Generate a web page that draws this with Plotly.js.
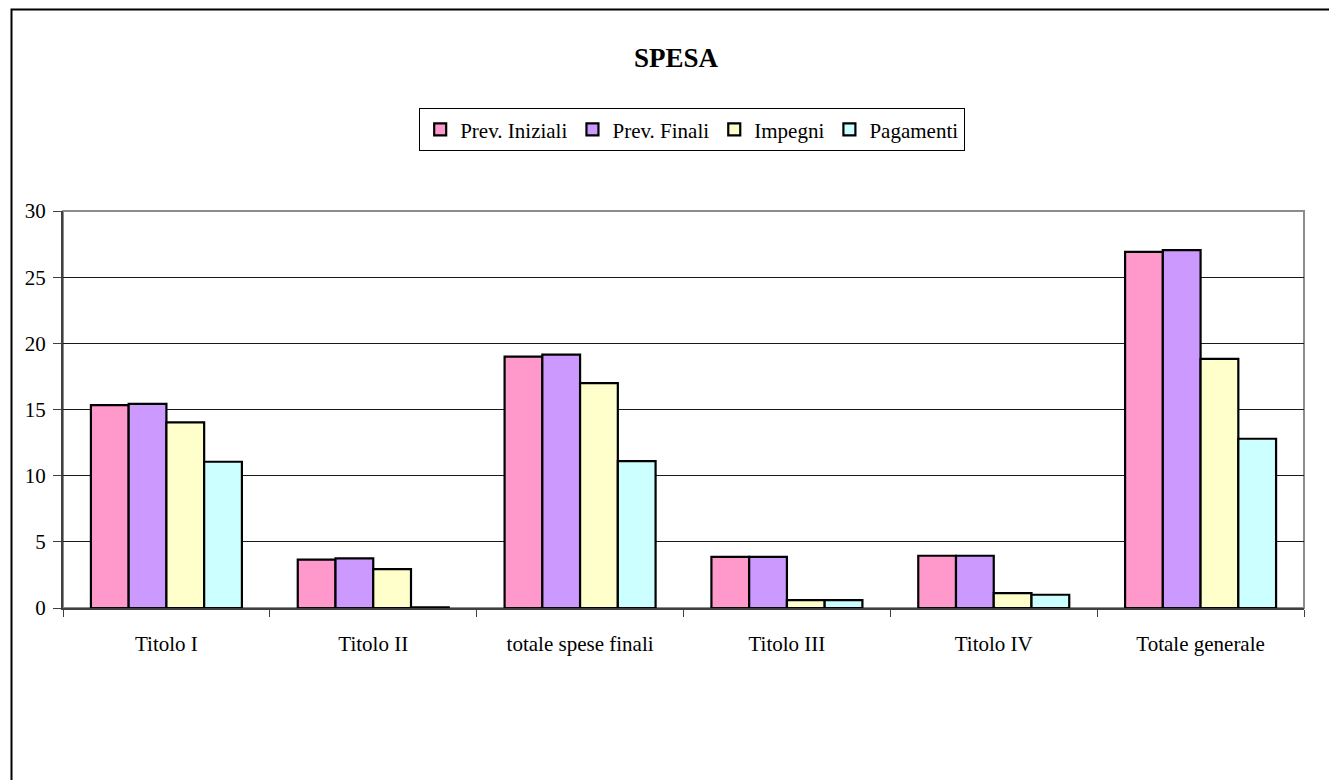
<!DOCTYPE html>
<html>
<head>
<meta charset="utf-8">
<script src="https://cdn.plot.ly/plotly-3.0.1.min.js"></script>
<style>
  html, body { margin: 0; padding: 0; background: #ffffff; }
  #chart { width: 1329px; height: 780px; }
</style>
</head>
<body>
<div id="chart"></div>
<script>
// Categories on the x axis
const categories = ["Titolo I", "Titolo II", "totale spese finali", "Titolo III", "Titolo IV", "Totale generale"];

// Series values
const prevIniziali = [15.33, 3.65, 19.0, 3.87, 3.95, 26.91];
const prevFinali   = [15.43, 3.75, 19.15, 3.87, 3.95, 27.04];
const impegni      = [14.02, 2.94, 17.0, 0.6, 1.13, 18.83];
const pagamenti    = [11.05, 0.05, 11.1, 0.6, 1.0, 12.79];

const seriesNames = ["Prev. Iniziali", "Prev. Finali", "Impegni", "Pagamenti"];
const yTicks = [0, 5, 10, 15, 20, 25, 30];

const colors = ["#FF99CC", "#CC99FF", "#FFFFCC", "#CCFFFF"];
const serif = "'Liberation Serif', 'DejaVu Serif', serif";
const textSize = 21;

const allSeries = [prevIniziali, prevFinali, impegni, pagamenti];
const traces = allSeries.map((vals, i) => ({
  type: "bar",
  name: seriesNames[i],
  x: categories,
  y: vals,
  marker: { color: colors[i], line: { color: "#000000", width: 2.2 } },
  hoverinfo: "x+y+name"
}));

const layout = {
  width: 1329,
  height: 780,
  margin: { l: 63, r: 25, t: 211, b: 172 },
  paper_bgcolor: "#ffffff",
  plot_bgcolor: "#ffffff",
  font: { family: serif, size: textSize, color: "#000000" },
  title: {
    text: "<b>SPESA</b>",
    font: { family: serif, size: 27, color: "#000000" },
    xref: "container", x: 676 / 1329, xanchor: "center",
    yref: "container", y: 1 - 58 / 780, yanchor: "middle"
  },
  barmode: "group",
  bargap: 0.27,
  bargroupgap: 0,
  showlegend: true,
  legend: {
    orientation: "h",
    x: 0.507, xanchor: "center",
    y: 1.259, yanchor: "top",
    bordercolor: "#000000",
    borderwidth: 1,
    bgcolor: "#ffffff",
    font: { family: serif, size: textSize, color: "#000000" },
    itemwidth: 30,
    traceorder: "normal"
  },
  xaxis: {
    type: "category",
    showgrid: false,
    showline: true,
    linecolor: "#404040",
    linewidth: 2,
    ticks: "outside",
    tickson: "boundaries",
    ticklen: 7,
    tickcolor: "#404040",
    tickwidth: 1,
    ticklabelstandoff: 16,
    tickfont: { family: serif, size: textSize, color: "#000000" },
    zeroline: false,
    fixedrange: true
  },
  yaxis: {
    range: [0, 30],
    tickvals: yTicks,
    ticktext: yTicks.map(String),
    showgrid: true,
    gridcolor: "#1a1a1a",
    gridwidth: 1,
    showline: true,
    linecolor: "#404040",
    linewidth: 2,
    ticks: "outside",
    ticklen: 8,
    tickcolor: "#404040",
    tickwidth: 1,
    ticklabelstandoff: 3,
    tickfont: { family: serif, size: textSize, color: "#000000" },
    zeroline: false,
    fixedrange: true
  },
  shapes: [
    // grey frame of the plotting area
    {
      type: "rect", xref: "paper", yref: "paper",
      x0: 0, x1: 1, y0: 0, y1: 1,
      line: { color: "#8c8c8c", width: 2 },
      layer: "below"
    },
    // outer chart border (left and top edges)
    {
      type: "path", xref: "paper", yref: "paper",
      path: "M -0.0415,-0.45 L -0.0415,1.5076 L 1.05,1.5076",
      line: { color: "#000000", width: 2 }
    }
  ]
};

Plotly.newPlot("chart", traces, layout, { displayModeBar: false, staticPlot: true });
</script>
</body>
</html>
